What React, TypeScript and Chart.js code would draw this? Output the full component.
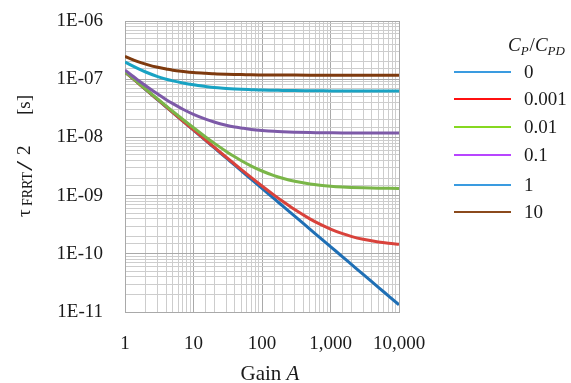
import React, { useEffect, useRef } from "react";
import { Chart, registerables } from "chart.js";

Chart.register(...registerables);

const gains = [1, 1.5, 2, 3, 4, 5, 7, 10, 15, 20, 30, 40, 50, 70, 100, 150, 200, 300, 500, 700, 1000, 1500, 2000, 3000, 5000, 7000, 10000];

const seriesLabels = ["0", "0.001", "0.01", "0.1", "1", "10"];

const tauCp0 = [1.33e-7, 8.87e-8, 6.65e-8, 4.43e-8, 3.33e-8, 2.66e-8, 1.9e-8, 1.33e-8, 8.87e-9, 6.65e-9, 4.43e-9, 3.33e-9, 2.66e-9, 1.9e-9, 1.33e-9, 8.87e-10, 6.65e-10, 4.43e-10, 2.66e-10, 1.9e-10, 1.33e-10, 8.87e-11, 6.65e-11, 4.43e-11, 2.66e-11, 1.9e-11, 1.33e-11];
const tauCp0001 = [1.331e-7, 8.88e-8, 6.66e-8, 4.45e-8, 3.34e-8, 2.67e-8, 1.91e-8, 1.343e-8, 9.0e-9, 6.78e-9, 4.57e-9, 3.46e-9, 2.79e-9, 2.03e-9, 1.463e-9, 1.02e-9, 7.98e-10, 5.76e-10, 3.99e-10, 3.23e-10, 2.66e-10, 2.215e-10, 1.994e-10, 1.772e-10, 1.595e-10, 1.519e-10, 1.462e-10];
const tauCp001 = [1.343e-7, 9.0e-8, 6.78e-8, 4.57e-8, 3.46e-8, 2.79e-8, 2.03e-8, 1.462e-8, 1.018e-8, 7.97e-9, 5.75e-9, 4.64e-9, 3.98e-9, 3.22e-9, 2.647e-9, 2.204e-9, 1.982e-9, 1.76e-9, 1.583e-9, 1.507e-9, 1.45e-9, 1.405e-9, 1.383e-9, 1.361e-9, 1.343e-9, 1.336e-9, 1.33e-9];
const tauCp01 = [1.43e-7, 9.9e-8, 7.75e-8, 5.55e-8, 4.45e-8, 3.8e-8, 3.05e-8, 2.49e-8, 2.06e-8, 1.84e-8, 1.62e-8, 1.51e-8, 1.45e-8, 1.37e-8, 1.315e-8, 1.27e-8, 1.25e-8, 1.23e-8, 1.21e-8, 1.205e-8, 1.2e-8, 1.195e-8, 1.193e-8, 1.19e-8, 1.19e-8, 1.188e-8, 1.188e-8];
const tauCp1 = [1.97e-7, 1.55e-7, 1.33e-7, 1.11e-7, 1.0e-7, 9.35e-8, 8.6e-8, 8.0e-8, 7.5e-8, 7.2e-8, 6.95e-8, 6.8e-8, 6.7e-8, 6.6e-8, 6.5e-8, 6.45e-8, 6.4e-8, 6.37e-8, 6.34e-8, 6.32e-8, 6.3e-8, 6.3e-8, 6.3e-8, 6.29e-8, 6.29e-8, 6.28e-8, 6.28e-8];
const tauCp10 = [2.47e-7, 2.03e-7, 1.82e-7, 1.6e-7, 1.5e-7, 1.43e-7, 1.36e-7, 1.3e-7, 1.26e-7, 1.24e-7, 1.215e-7, 1.205e-7, 1.2e-7, 1.19e-7, 1.185e-7, 1.18e-7, 1.178e-7, 1.175e-7, 1.173e-7, 1.172e-7, 1.171e-7, 1.17e-7, 1.17e-7, 1.17e-7, 1.17e-7, 1.17e-7, 1.17e-7];

const seriesValues = [tauCp0, tauCp0001, tauCp001, tauCp01, tauCp1, tauCp10];
const lineColors = ["#1f6fb5", "#d9423b", "#7ab648", "#7d5aa8", "#19a3c3", "#7e3a0e"];
const legendColors = ["#3a9be0", "#ff1010", "#86d820", "#b845ff", "#3a9be0", "#8b4a1c"];

const SERIF = '"Liberation Serif", "Times New Roman", serif';

const isDecade = (v: number) => Math.abs(Math.log10(v) - Math.round(Math.log10(v))) < 1e-6;

const overlayPlugin = {
  id: "overlay",
  afterDraw(chart: any) {
    const ctx: CanvasRenderingContext2D = chart.ctx;
    ctx.save();
    ctx.fillStyle = "#1a1a1a";
    ctx.textBaseline = "alphabetic";
    ctx.textAlign = "left";

    // Legend title C_P/C_PD
    const tx = 508;
    const ty = 51;
    ctx.font = `italic 19px ${SERIF}`;
    let x = tx;
    ctx.fillText("C", x, ty);
    x += ctx.measureText("C").width;
    ctx.font = `italic 13px ${SERIF}`;
    ctx.fillText("P", x, ty + 4);
    x += ctx.measureText("P").width + 1;
    ctx.font = `19px ${SERIF}`;
    ctx.fillText("/", x, ty);
    x += ctx.measureText("/").width;
    ctx.font = `italic 19px ${SERIF}`;
    ctx.fillText("C", x, ty);
    x += ctx.measureText("C").width;
    ctx.font = `italic 13px ${SERIF}`;
    ctx.fillText("PD", x, ty + 4);

    // Legend entries
    const ys = [72, 99, 127, 155, 185, 212];
    seriesLabels.forEach((lab, i) => {
      ctx.strokeStyle = legendColors[i];
      ctx.lineWidth = 2;
      ctx.beginPath();
      ctx.moveTo(454, ys[i]);
      ctx.lineTo(511, ys[i]);
      ctx.stroke();
      ctx.font = `19px ${SERIF}`;
      ctx.textBaseline = "middle";
      ctx.fillText(lab, 524, ys[i] + 1);
    });

    // X axis title
    ctx.textBaseline = "alphabetic";
    ctx.font = `21px ${SERIF}`;
    const g = "Gain ";
    const gw = ctx.measureText(g).width;
    ctx.font = `italic 21px ${SERIF}`;
    const aw = ctx.measureText("A").width;
    const startX = 270 - (gw + aw) / 2;
    ctx.font = `21px ${SERIF}`;
    ctx.fillText(g, startX, 380);
    ctx.font = `italic 21px ${SERIF}`;
    ctx.fillText("A", startX + gw, 380);

    // Y axis title (rotated): τ_FRRT/2   [s]
    ctx.translate(30, 217);
    ctx.rotate(-Math.PI / 2);
    ctx.font = `19px ${SERIF}`;
    ctx.fillText("τ", 0, 0);
    ctx.font = `14px ${SERIF}`;
    ctx.fillText("FRRT", 11, 2);
    ctx.save();
    ctx.translate(46, 2);
    ctx.scale(1.6, 1);
    ctx.font = `23px ${SERIF}`;
    ctx.fillText("/", 0, 0);
    ctx.restore();
    ctx.font = `19px ${SERIF}`;
    ctx.fillText("2", 62, 0);
    ctx.fillText("[s]", 102, 0);
    ctx.restore();
  },
};

export default function App() {
  const ref = useRef<HTMLCanvasElement | null>(null);

  useEffect(() => {
    if (!ref.current) return;
    const datasets = seriesValues.map((vals, i) => ({
      label: seriesLabels[i],
      data: gains.map((g, j) => ({ x: g, y: vals[j] })),
      borderColor: lineColors[i],
      backgroundColor: lineColors[i],
      borderWidth: 3,
      pointRadius: 0,
      cubicInterpolationMode: "monotone" as const,
      order: -i,
    }));

    const gridColor = (ctx: any) => (ctx.tick && isDecade(ctx.tick.value) ? "#a9a9a9" : "#cdcdcd");

    const chart = new Chart(ref.current, {
      type: "line",
      data: { datasets },
      plugins: [overlayPlugin],
      options: {
        responsive: false,
        animation: false,
        devicePixelRatio: 1,
        layout: { padding: { left: 0, top: 21, right: 172, bottom: 0 } },
        plugins: { legend: { display: false }, tooltip: { enabled: false } },
        scales: {
          x: {
            type: "logarithmic",
            min: 1,
            max: 10000,
            grid: { color: gridColor, drawTicks: false, lineWidth: 1 },
            border: { color: "#a9a9a9" },
            ticks: {
              autoSkip: false,
              maxRotation: 0,
              padding: 21,
              color: "#1a1a1a",
              font: { family: SERIF, size: 19 },
              callback: (v: any) => (isDecade(Number(v)) ? Math.round(Number(v)).toLocaleString("en-US") : ""),
            },
            afterFit: (s: any) => {
              s.height = 71;
              s.paddingLeft = 0;
              s.paddingRight = 0;
            },
          },
          y: {
            type: "logarithmic",
            min: 1e-11,
            max: 1e-6,
            grid: { color: gridColor, drawTicks: false, lineWidth: 1 },
            border: { color: "#a9a9a9" },
            ticks: {
              autoSkip: false,
              padding: 22,
              color: "#1a1a1a",
              font: { family: SERIF, size: 19 },
              callback: (v: any) => {
                const n = Number(v);
                if (!isDecade(n)) return "";
                const e = Math.round(Math.log10(n));
                return `1E-${String(-e).padStart(2, "0")}`;
              },
            },
            afterFit: (s: any) => {
              s.width = 125;
              s.paddingTop = 0;
              s.paddingBottom = 0;
            },
          },
        },
      } as any,
    });
    return () => chart.destroy();
  }, []);

  return (
    <div style={{ position: "absolute", left: 0, top: 0, width: 571, height: 383, background: "#fff" }}>
      <canvas ref={ref} width={571} height={383} />
    </div>
  );
}
